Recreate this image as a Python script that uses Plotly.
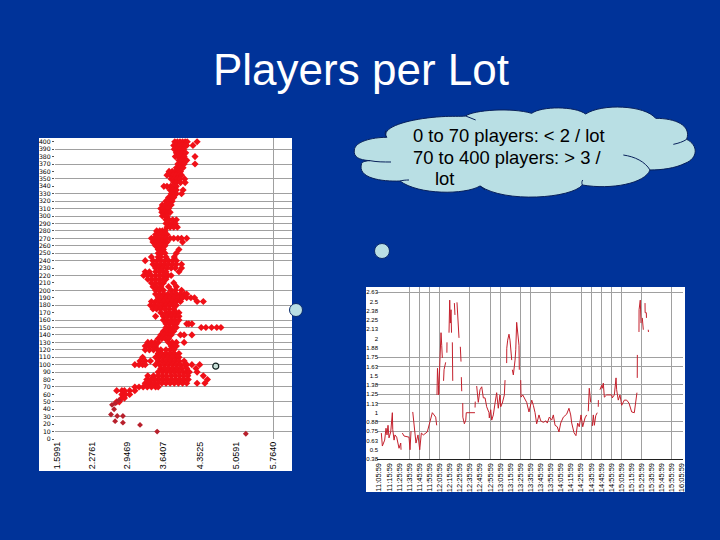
import plotly.graph_objects as go

FONT = "Liberation Sans"
NAVY = "#003399"
CLOUD = "#b9dfe4"
GRID = "#a0a0a0"

# left chart: players per row, with the ratios seen on that row
players = [400, 395, 390, 385, 380, 375, 370, 365, 360, 355, 350, 345, 340, 335, 330, 325, 320, 315, 310, 305,
           300, 295, 290, 285, 280, 275, 270, 265, 260, 255, 250, 245, 240, 235, 230, 225, 220, 215, 210, 205,
           200, 195, 190, 185, 180, 175, 170, 165, 160, 155, 150, 145, 140, 135, 130, 125, 120, 115, 110, 105,
           100, 95, 90, 85, 80, 75, 70, 65, 60, 55, 50]
ratios = [
    [3.87, 3.92, 3.97, 4.02, 4.07, 4.11, 4.3],
    [3.85, 3.9, 3.96, 4.01, 4.06, 4.1, 4.22],
    [3.86, 3.92, 3.98, 4.04],
    [3.9, 3.95, 4.01, 4.08],
    [3.88, 3.94, 4.0, 4.05, 4.26],
    [3.95, 4.0, 4.06, 4.1],
    [3.93, 3.99, 4.05, 4.26],
    [3.9, 3.96, 4.03],
    [3.76, 3.82, 3.88, 3.94, 3.98],
    [3.72, 3.78, 3.84, 3.9, 3.96, 4.0],
    [3.8, 3.86, 3.92, 3.97, 4.06],
    [3.85, 3.9, 3.98, 4.07],
    [3.66, 3.72, 3.79, 3.85, 3.9],
    [3.78, 3.84, 3.9, 4.03],
    [3.8, 3.86, 3.9, 4.0],
    [3.75, 3.8, 3.85],
    [3.7, 3.76, 3.82],
    [3.63, 3.69, 3.75, 3.8],
    [3.6, 3.66, 3.71, 3.75],
    [3.62, 3.68, 3.73, 3.78],
    [3.63, 3.68, 3.72],
    [3.7, 3.76, 3.83, 3.9],
    [3.7, 3.75, 3.81, 3.88],
    [3.72, 3.78, 3.85, 3.92],
    [3.52, 3.58, 3.63, 3.68],
    [3.5, 3.55, 3.61, 3.67, 3.72],
    [3.42, 3.48, 3.54, 3.6, 3.66, 3.7, 3.78, 3.85, 3.93, 4.0, 4.1],
    [3.45, 3.51, 3.57, 3.63, 3.68, 3.72, 4.02],
    [3.5, 3.56, 3.62, 3.68],
    [3.55, 3.6, 3.65, 3.95],
    [3.55, 3.61, 3.68, 3.9],
    [3.42, 3.55, 3.6, 3.7, 3.86],
    [3.3, 3.45, 3.53, 3.6, 3.68, 3.75, 3.83, 3.9],
    [3.45, 3.52, 3.6, 3.67, 3.74, 3.82, 3.9, 4.0],
    [3.5, 3.57, 3.64, 3.72, 3.8, 3.88, 4.0],
    [3.3, 3.38, 3.5, 3.57, 3.64, 3.7, 3.95],
    [3.27, 3.34, 3.42, 3.5, 3.58, 3.66, 3.74, 3.8],
    [3.35, 3.43, 3.5, 3.57, 3.64, 3.7],
    [3.42, 3.5, 3.58, 3.65, 3.85],
    [3.45, 3.52, 3.6, 3.75, 3.9],
    [3.5, 3.57, 3.65, 3.8, 3.88, 4.0],
    [3.5, 3.58, 3.66, 3.74, 3.82, 3.9, 3.98, 4.06, 4.1],
    [3.55, 3.62, 3.7, 3.78, 3.86, 3.94, 4.02, 4.1, 4.18, 4.25],
    [3.42, 3.5, 3.58, 3.66, 3.74, 3.82, 3.9, 3.98, 4.3, 4.42],
    [3.4, 3.47, 3.55, 3.63, 3.7, 3.78, 3.85, 3.9],
    [3.45, 3.52, 3.6, 3.68, 3.76, 3.85],
    [3.6, 3.7, 3.76, 3.83, 3.9, 3.95],
    [3.5, 3.65, 3.72, 3.8, 3.88, 3.95],
    [3.65, 3.72, 3.8, 3.87, 3.95],
    [3.7, 3.77, 3.84, 3.9, 4.1, 4.14, 4.2],
    [3.7, 3.76, 3.84, 3.9, 4.38, 4.47, 4.58, 4.68, 4.76],
    [3.65, 3.72, 3.79, 3.85],
    [3.6, 3.67, 3.74, 3.8, 3.98, 4.05, 4.2],
    [3.55, 3.62, 3.69, 3.75],
    [3.35, 3.42, 3.49, 3.55, 3.75, 3.82, 3.9, 4.05],
    [3.3, 3.37, 3.44, 3.5, 3.8, 3.85, 3.9],
    [3.3, 3.38, 3.46, 3.54, 3.6, 3.7, 3.78, 3.85],
    [3.55, 3.62, 3.7, 3.78, 3.86, 3.95],
    [3.25, 3.5, 3.58, 3.66, 3.74, 3.82, 3.9, 3.95],
    [3.2, 3.3, 3.4, 3.55, 3.63, 3.71, 3.79, 3.87, 3.95, 4.05],
    [3.1, 3.18, 3.25, 3.3, 3.5, 3.58, 3.66, 3.74, 3.82, 3.9, 3.98, 4.06, 4.1, 4.2, 4.35],
    [3.6, 3.68, 3.76, 3.84, 3.92, 4.0, 4.1, 4.28],
    [3.55, 3.63, 3.71, 3.79, 3.87, 3.95, 4.03, 4.1, 4.15, 4.3],
    [3.35, 3.46, 3.55, 3.63, 3.71, 3.8, 3.88, 3.96, 4.04, 4.12, 4.42],
    [3.33, 3.41, 3.49, 3.57, 3.65, 3.73, 3.81, 3.89, 3.97, 4.05, 4.13, 4.5],
    [3.3, 3.38, 3.46, 3.54, 3.62, 3.7, 3.78, 3.86, 3.94, 4.02, 4.1, 4.3, 4.45],
    [3.1, 3.18, 3.26, 3.34, 3.42, 3.5, 3.55],
    [2.75, 2.85, 2.9, 3.0, 3.1],
    [2.85, 2.92, 3.0],
    [2.85, 2.9],
    [2.75, 2.8],
]

# the few points far down the chart
players_low = [52, 48, 46, 40, 33, 31, 31, 24, 22, 19, 10, 7]
ratio_low = [2.79, 2.72, 2.66, 2.70, 2.64, 2.76, 2.87, 2.72, 2.87, 3.20, 3.53, 5.24]

marked_ratio = [4.66]
marked_players = [98]

ratio_ticks = [1.5991, 2.2761, 2.9469, 3.6407, 4.3525, 5.0591, 5.764]
ratio_labels = ["1.5991", "2.2761", "2.9469", "3.6407", "4.3525", "5.0591", "5.7640"]
player_ticks = list(range(0, 401, 10))
player_grid = [390, 370, 350, 330, 320, 310, 300, 290, 280, 270, 260, 250, 240, 220, 200, 180,
               160, 150, 140, 130, 120, 110, 100, 90, 70, 50, 30, 10]

# right chart: players per lot over time, None marks a gap in the line
time_pos = [
    0.23, 0.33, 0.56, 0.69, 0.79, 0.89, 0.99, 1.16, 1.32, 1.36, 1.49, 1.58, 1.75, 1.81, 1.98, 2.15, 2.18, None,
    2.31, 2.48, 2.97, 3.07, 3.17, None,
    3.34, 3.47, 3.63, 3.66, 3.86, 4.03, 4.19, 4.39, 4.78, 5.02, 5.28, 5.45, 5.61, 5.71, None,
    5.74, 5.79, 5.89, 5.91, 6.04, 6.14, 6.21, 6.27, None,
    6.39, 6.44, 6.60, None,
    6.72, 6.73, None,
    6.93, 7.0, 7.06, 7.13, 7.18, None,
    7.26, 7.27, 7.30, None,
    7.46, 7.52, None,
    7.72, 7.79, 7.87, 7.92, None,
    8.05, 8.12, None,
    8.15, 8.19, None,
    8.29, 8.30, 8.45, 8.59, 8.64, 9.01, 9.50, None,
    9.51, 9.53, None,
    9.67, 9.73, 9.83, 10.0, 10.17, 10.33, 10.50, 10.66, 10.89, 10.92, 11.06, 11.16, 11.32, 11.49, 11.65, 11.81,
    11.98, 12.05, 12.21, 12.41, 12.48, None,
    12.64, 12.65, 12.74, 12.87, 12.97, 13.04, 13.14, None,
    13.2, 13.3, 13.47, 13.54, 13.63, 13.73, 13.86, 13.89, None,
    14.03, 14.06, 14.23, 14.39, 14.62, 14.85, 15.12, 15.28, 15.45, 15.61, 15.84, 16.01, 16.27, 16.53, 16.66, 16.86,
    17.1, 17.26, 17.43, 17.65, 17.82, 17.99, 18.25, 18.58, 18.81, 18.98, 19.08, 19.31, 19.5, 19.67, 19.83, 20.0,
    20.17, 20.4, 20.56, None,
    20.72, 20.82, 20.96, None,
    21.12, 21.22, 21.32, 21.46, 21.61, None,
    21.71, 21.72, None,
    21.88, 22.05, 22.11, 22.21, 22.31, 22.54, 23.04, 23.1, 23.3, 23.47, 23.53, 23.69, 23.86, 24.03, 24.29, 24.52,
    24.75, 25.02, 25.28, 25.41, 25.54, None,
    25.57, 25.58, None,
    25.74, 25.75, 25.87, 25.94, None,
    26.07, 26.17, None,
    26.34, 26.35, 26.47, 26.48, None,
    26.66, 26.68,
]
lot_ratio = [
    0.725, 0.55, 0.63, 0.79, 0.70, 0.83, 0.66, 0.74, 1.0, 0.77, 0.63, 0.70, 0.67, 0.63, 0.52, 0.59, 0.50, None,
    0.725, 0.685, 0.67, 0.50, 0.75, None,
    1.01, 0.86, 0.67, 0.59, 0.70, 0.50, 0.725, 0.70, 0.74, 0.86, 1.0, 0.97, 0.94, 0.83, None,
    1.24, 1.60, 1.37, 1.24, 1.74, 2.08, 1.91, 1.74, None,
    1.43, 1.58, 1.68, None,
    1.81, 1.95, None,
    2.08, 2.52, 2.21, 2.39, 2.08, None,
    1.95, 1.71, 1.43, None,
    2.48, 2.32, None,
    2.49, 2.28, 2.08, 2.01, None,
    1.89, 1.69, None,
    1.48, 1.29, None,
    1.13, 0.94, 0.85, 0.90, 1.0, 1.0, 1.0, None,
    1.07, 1.15, None,
    1.36, 1.27, 1.14, 1.31, 1.35, 1.20, 1.20, 1.08, 1.0, 0.93, 1.04, 0.90, 0.97, 1.13, 1.27, 1.06,
    1.24, 1.08, 1.13, 1.24, 1.44, None,
    1.67, 1.87, 1.98, 2.06, 1.98, 1.87, 1.71, None,
    1.58, 1.51, 1.71, 1.85, 2.22, 2.08, 1.91, 1.58, None,
    1.44, 1.21, 1.24, 1.20, 1.14, 1.01, 1.17, 1.10, 1.0, 0.85, 0.97, 0.89, 0.87, 0.89, 0.86, 0.94,
    0.90, 0.97, 0.83, 0.81, 0.74, 0.86, 0.94, 0.98, 1.06, 0.97, 0.86, 0.73, 0.69, 0.86, 0.81, 0.97,
    0.81, 0.93, 0.97, None,
    1.02, 1.33, 1.14, None,
    0.82, 0.97, 0.83, 0.96, 1.0, None,
    1.08, 1.17, None,
    1.31, 1.37, 1.33, 1.40, 1.21, 1.24, 1.24, 1.20, 1.24, 1.47, 1.31, 1.17, 1.24, 1.10, 1.17, 1.17,
    1.13, 1.01, 1.0, 1.13, 1.27, None,
    1.47, 1.78, None,
    2.09, 2.39, 2.52, 2.21, None,
    2.28, 2.12, None,
    2.48, 2.35, 2.35, 2.28, None,
    2.12, 2.09,
]

time_labels = ["11:05:59", "11:15:59", "11:25:59", "11:35:59", "11:45:59", "11:55:59", "12:05:59", "12:15:59",
               "12:25:59", "12:35:59", "12:45:59", "12:55:59", "13:05:59", "13:15:59", "13:25:59", "13:35:59",
               "13:45:59", "13:55:59", "14:05:59", "14:15:59", "14:25:59", "14:35:59", "14:45:59", "14:55:59",
               "15:05:59", "15:15:59", "15:25:59", "15:35:59", "15:45:59", "15:55:59", "16:05:59"]
time_ticks = list(range(31))
time_grid = [3, 4, 5, 6, 9, 11, 12, 14, 15, 17, 20, 21, 22, 23, 24, 26, 29]
lot_ticks = [2.625, 2.5, 2.375, 2.25, 2.125, 2, 1.875, 1.75, 1.625, 1.5, 1.375, 1.25, 1.125, 1,
             0.875, 0.75, 0.625, 0.5, 0.375]
lot_labels = ["2.63", "2.5", "2.38", "2.25", "2.13", "2", "1.88", "1.75", "1.63", "1.5", "1.38", "1.25", "1.13",
              "1", "0.88", "0.75", "0.63", "0.5", "0.38"]
lot_grid = [2.625, 1.75, 1.625, 1.375, 1.25, 1.125, 0.875, 0.75]


def fx(x):
    return x / 720


def fy(y):
    return 1 - y / 540


def crop_xy(zx, zy):
    # cloud outline was traced on a 3x crop starting at (345, 100)
    return f"{fx(345 + zx / 3):.5f},{fy(100 + zy / 3):.5f}"


def traced_path(start, curves=(), close=False):
    d = "M " + crop_xy(*start)
    for c in curves:
        d += " C " + " ".join(crop_xy(*p) for p in c)
    return d + (" Z" if close else "")


row_x = [r for row in ratios for r in row]
row_y = [p for p, row in zip(players, ratios) for _ in row]

fig = go.Figure()
fig.add_trace(go.Scatter(x=row_x, y=row_y, mode="markers", xaxis="x", yaxis="y",
                         marker=dict(symbol="diamond", size=5.5, color="#f01018")))
fig.add_trace(go.Scatter(x=ratio_low, y=players_low, mode="markers", xaxis="x", yaxis="y",
                         marker=dict(symbol="diamond", size=4.5, color="#b8202c")))
fig.add_trace(go.Scatter(x=marked_ratio, y=marked_players, mode="markers", xaxis="x", yaxis="y",
                         marker=dict(symbol="circle", size=6, color="#c8e0d8",
                                     line=dict(color="#102020", width=1.2))))
fig.add_trace(go.Scatter(x=time_pos, y=lot_ratio, mode="lines", xaxis="x2", yaxis="y2", connectgaps=False,
                         line=dict(color="#c4202c", width=1)))

shapes = [
    dict(type="rect", xref="paper", yref="paper", x0=fx(39), x1=fx(292), y0=fy(471), y1=fy(138),
         fillcolor="white", line_width=0, layer="below"),
    dict(type="rect", xref="paper", yref="paper", x0=fx(366), x1=fx(685), y0=fy(492), y1=fy(287),
         fillcolor="white", line_width=0, layer="below"),
    dict(type="circle", xref="paper", yref="paper", x0=fx(289.5), x1=fx(302.5), y0=fy(316.5), y1=fy(303.5),
         fillcolor=CLOUD, line=dict(color="#0a2a6a", width=1), layer="above"),
    dict(type="circle", xref="paper", yref="paper", x0=fx(374.5), x1=fx(389.5), y0=fy(258.5), y1=fy(243.5),
         fillcolor=CLOUD, line=dict(color="#0a2a6a", width=1), layer="above"),
    dict(type="path", xref="paper", yref="paper", fillcolor=CLOUD, line=dict(color="#08205a", width=1),
         path=traced_path((28, 150), [
             [(30, 125), (80, 112), (125, 112)],
             [(105, 80), (200, 55), (290, 50)],
             [(320, 48), (345, 50), (362, 48)],
             [(385, 30), (500, 22), (560, 40)],
             [(590, 18), (690, 18), (722, 42)],
             [(770, 10), (900, 15), (932, 55)],
             [(990, 55), (1040, 75), (1025, 118)],
             [(1060, 135), (1060, 175), (1020, 190)],
             [(990, 205), (950, 210), (915, 210)],
             [(900, 250), (800, 270), (712, 255)],
             [(680, 295), (480, 310), (405, 258)],
             [(360, 285), (220, 285), (165, 243)],
             [(110, 245), (35, 235), (50, 190)],
             [(52, 185), (65, 182), (75, 182)],
             [(40, 180), (25, 170), (28, 150)],
         ], close=True)),
]
# creases inside the cloud
for start, curve in [
    ((75, 182), [(95, 186), (115, 186), (138, 186)]),
    ((125, 112), [(120, 105), (120, 98), (122, 92)]),
    ((985, 133), [(1000, 130), (1015, 125), (1025, 118)]),
    ((835, 165), [(870, 170), (900, 185), (915, 210)]),
    ((165, 243), [(172, 241), (182, 240), (192, 240)]),
    ((405, 258), [(410, 262), (415, 266), (420, 270)]),
    ((712, 255), [(710, 250), (710, 245), (713, 240)]),
    ((362, 48), [(372, 52), (382, 56), (392, 60)]),
]:
    shapes.append(dict(type="path", xref="paper", yref="paper", line=dict(color="#08205a", width=1),
                       path=traced_path(start, [curve])))

annotations = [
    dict(text="Players per Lot", x=fx(361), y=fy(69), xref="paper", yref="paper", showarrow=False,
         xanchor="center", yanchor="middle", font=dict(family=FONT, size=44, color="white")),
]
for text, left, mid in [("0 to 70 players: < 2 / lot", 413, 135),
                        ("70 to 400 players: > 3 /", 413, 157),
                        ("lot", 435, 178)]:
    annotations.append(dict(text=text, x=fx(left), y=fy(mid), xref="paper", yref="paper", showarrow=False,
                            xanchor="left", yanchor="middle", xshift=-2,
                            font=dict(family=FONT, size=18.4, color="black")))

fig.update_layout(
    width=720, height=540, margin=dict(l=0, r=0, t=0, b=0, pad=0, autoexpand=False), showlegend=False,
    paper_bgcolor=NAVY, plot_bgcolor="rgba(0,0,0,0)", font=dict(family=FONT, color="black"),
    shapes=shapes, annotations=annotations,
    xaxis=dict(domain=[fx(55), fx(292)], range=[1.5605, 6.13], anchor="y", zeroline=False, showgrid=False,
               automargin=False, tickmode="array", tickvals=ratio_ticks, ticktext=ratio_labels, tickangle=-90,
               tickfont=dict(size=9), ticks="", ticklen=0,
               minor=dict(tickmode="array", tickvals=[5.764], showgrid=True, gridcolor=GRID, gridwidth=1.3, ticks="")),
    yaxis=dict(domain=[fy(439), fy(138)], range=[0, 405], anchor="x", zeroline=False, showgrid=False,
               automargin=False, tickmode="array", tickvals=player_ticks,
               tickfont=dict(family="DejaVu Sans", size=6.2), ticks="outside", ticklen=2, tickcolor="#555555",
               minor=dict(tickmode="array", tickvals=player_grid, showgrid=True, gridcolor=GRID, gridwidth=1.3, ticks="")),
    xaxis2=dict(domain=[fx(377), fx(683)], range=[-0.2, 30.1], anchor="y2", zeroline=False, showgrid=False,
                automargin=False, showline=True, linecolor="#202020", linewidth=1, tickmode="array",
                tickvals=time_ticks, ticktext=time_labels, tickangle=-90, tickfont=dict(size=7.5), ticks="", ticklen=0,
                minor=dict(tickmode="array", tickvals=time_grid, showgrid=True, gridcolor=GRID, gridwidth=1.3, ticks="")),
    yaxis2=dict(domain=[fy(459), fy(287)], range=[0.375, 2.697], anchor="x2", zeroline=False, showgrid=False,
                automargin=False, tickmode="array", tickvals=lot_ticks, ticktext=lot_labels, tickfont=dict(size=6),
                ticks="", ticklen=0, ticklabelstandoff=-2,
                minor=dict(tickmode="array", tickvals=lot_grid, showgrid=True, gridcolor=GRID, gridwidth=1.3, ticks="")),
)

fig.write_html("out.html", config=dict(displayModeBar=False),
               post_script="document.body.style.margin='0';document.body.style.overflow='hidden';")
